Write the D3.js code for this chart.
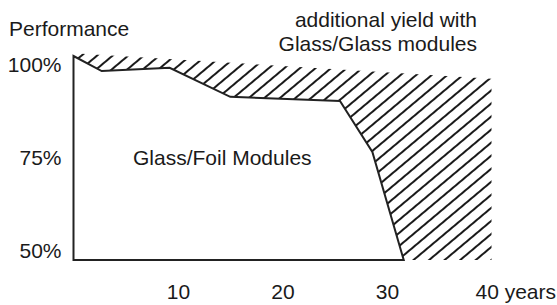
<!DOCTYPE html>
<html>
<head>
<meta charset="utf-8">
<script src="https://cdn.jsdelivr.net/npm/d3@7"></script>
<style>
  html, body { margin: 0; padding: 0; background: #fff; }
  text { font-family: "Liberation Sans", Arial, sans-serif; fill: #1a1a1a; }
</style>
</head>
<body>
<svg id="chart" width="557" height="305"></svg>
<script>
// values
const foilYears = [0, 2.7, 9.2, 15, 25.5, 28.6, 31.6];
const foilPerf  = [100, 96.3, 97.1, 90.0, 89.0, 76.5, 50];
const glassYears = [0, 40];
const glassPerf  = [100.7, 94.4];
const xTicks = [10, 20, 30, 40];
const yTicks = [50, 75, 100];

const svg = d3.select('#chart');
const fontSize = 21;

let x = d3.scaleLinear().domain([0, 40]).range([73.5, 491.5]);
let y = d3.scaleLinear().domain([50, 100]).range([260, 56]);
// tick labels in the original sit a bit inside the plotted range
let yLab = d3.scaleLinear().domain([50, 100]).range([250.3, 64.3]);

// hatch pattern
let pat = svg.append('defs').append('pattern')
  .attr('id', 'hatch')
  .attr('patternUnits', 'userSpaceOnUse')
  .attr('width', 10).attr('height', 10)
  .attr('patternTransform', 'rotate(-40)');
pat.append('line')
  .attr('x1', -1).attr('x2', 11)
  .attr('y1', 5).attr('y2', 5)
  .attr('stroke', '#1a1a1a')
  .attr('stroke-width', 2);

let foil = foilYears.map((d, i) => [d, foilPerf[i]]);
let glass = glassYears.map((d, i) => [d, glassPerf[i]]);

// hatched area: between glass/glass top and glass/foil curve
let hatchPts = glass.concat([[40, 50]], foil.slice().reverse());
svg.append('path')
  .attr('d', d3.line().x(d => x(d[0])).y(d => y(d[1]))(hatchPts) + 'Z')
  .attr('fill', 'url(#hatch)')
  .attr('stroke', 'none');

// glass/foil body with axis edges
let bodyPts = foil.concat([[0, 50]]);
svg.append('path')
  .attr('d', d3.line().x(d => x(d[0])).y(d => y(d[1]))(bodyPts) + 'Z')
  .attr('fill', '#fff')
  .attr('stroke', '#222')
  .attr('stroke-width', 2)
  .attr('stroke-linejoin', 'miter');

// axes (labels only)
let xAxis = svg.append('g')
  .attr('transform', 'translate(0,' + y(50) + ')')
  .call(d3.axisBottom(x).tickValues(xTicks).tickSize(0).tickPadding(24.1)
    .tickFormat(d => d === 40 ? '40 years' : d));
xAxis.select('.domain').remove();
xAxis.selectAll('text')
  .attr('font-size', fontSize)
  .attr('font-family', '"Liberation Sans", Arial, sans-serif')
  .attr('fill', '#1a1a1a');
xAxis.selectAll('.tick').filter(d => d === 40).select('text')
  .attr('text-anchor', 'start')
  .attr('dx', -16.5);

let yAxis = svg.append('g')
  .attr('transform', 'translate(' + x(0) + ',0)')
  .call(d3.axisLeft(yLab).tickValues(yTicks).tickSize(0).tickPadding(12)
    .tickFormat(d => d + '%'));
yAxis.select('.domain').remove();
yAxis.selectAll('text')
  .attr('font-size', fontSize)
  .attr('font-family', '"Liberation Sans", Arial, sans-serif')
  .attr('fill', '#1a1a1a');

// titles
svg.append('text').attr('x', 9).attr('y', 36)
  .attr('font-size', fontSize).text('Performance');

svg.append('text').attr('x', 477).attr('y', 27)
  .attr('text-anchor', 'end').attr('font-size', fontSize)
  .text('additional yield with');
svg.append('text').attr('x', 477).attr('y', 51)
  .attr('text-anchor', 'end').attr('font-size', fontSize)
  .text('Glass/Glass modules');

svg.append('text').attr('x', 133).attr('y', 165)
  .attr('font-size', fontSize).text('Glass/Foil Modules');
</script>
</body>
</html>
